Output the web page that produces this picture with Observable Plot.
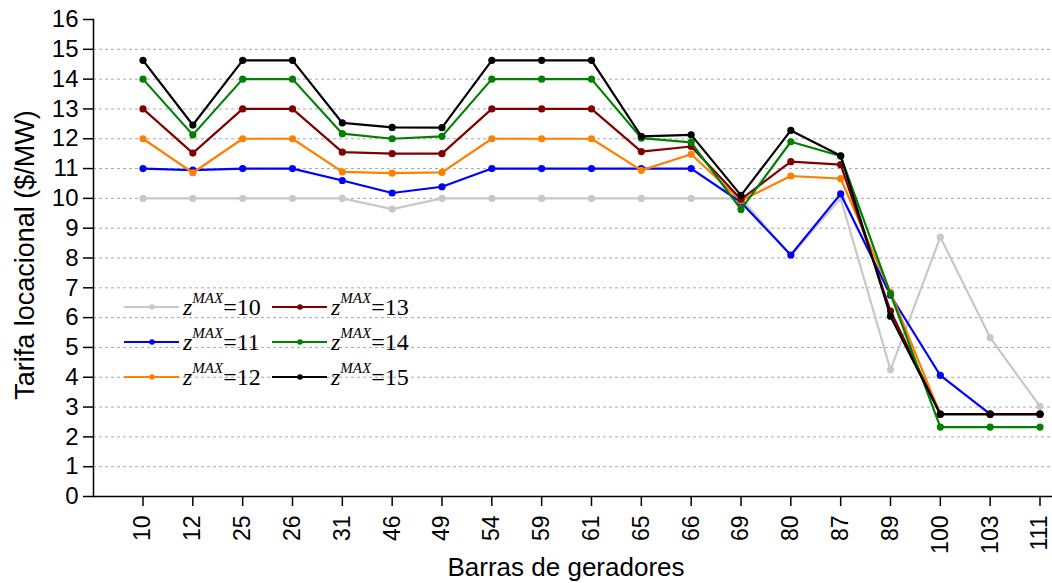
<!DOCTYPE html>
<html>
<head>
<meta charset="utf-8">
<script src="https://cdn.jsdelivr.net/npm/d3@7"></script>
<script src="https://cdn.jsdelivr.net/npm/@observablehq/plot@0.6"></script>
<style>
  body { margin: 0; background: #fff; }
  #chart svg { display: block; }
</style>
</head>
<body>
<div id="chart"></div>
<script>
// Categories (generator buses)
const buses = ["10","12","25","26","31","46","49","54","59","61","65","66","69","80","87","89","100","103","111"];

// Series values: locational tariff ($/MW) for each zMAX
const z10 = [10, 10, 10, 10, 10, 9.64, 10, 10, 10, 10, 10, 10, 10, 8.08, 10.0, 4.25, 8.7, 5.33, 3.02];
const z11 = [11, 10.95, 11, 11, 10.6, 10.18, 10.39, 11, 11, 11, 11, 11, 9.87, 8.1, 10.15, 6.75, 4.06, 2.76, 2.76];
const z12 = [12, 10.86, 12, 12, 10.89, 10.85, 10.87, 12, 12, 12, 10.94, 11.48, 9.92, 10.75, 10.66, 6.85, 2.76, 2.76, 2.76];
const z13 = [13, 11.52, 13, 13, 11.55, 11.5, 11.5, 13, 13, 13, 11.57, 11.74, 9.97, 11.23, 11.13, 6.22, 2.76, 2.76, 2.76];
const z14 = [14, 12.13, 14, 14, 12.17, 12.0, 12.08, 14, 14, 14, 12.02, 11.88, 9.63, 11.9, 11.42, 6.8, 2.33, 2.33, 2.33];
const z15 = [14.63, 12.46, 14.63, 14.63, 12.53, 12.38, 12.37, 14.63, 14.63, 14.63, 12.08, 12.13, 10.1, 12.28, 11.43, 6.05, 2.76, 2.76, 2.76];

const seriesNames = ["10", "11", "12", "13", "14", "15"];
const seriesValues = [z10, z11, z12, z13, z14, z15];
const seriesColors = ["#c8c8c8", "#0000ff", "#ff8000", "#800000", "#008000", "#000000"];

// Axis ticks
const yTicks = d3.range(0, 17);
const gridTicks = d3.range(1, 16);

const xTitle = "Barras de geradores";
const yTitle = "Tarifa locacional ($/MW)";

const series = seriesNames.map((name, i) => ({
  name,
  color: seriesColors[i],
  rows: buses.map((b, j) => ({bus: b, v: seriesValues[i][j]}))
}));

const W = 1052, H = 583;
const mLeft = 93, mTop = 19, mBottom = 87, mRight = 0;

const plot = Plot.plot({
  width: W,
  height: H,
  marginLeft: mLeft,
  marginRight: mRight,
  marginTop: mTop,
  marginBottom: mBottom,
  style: {fontFamily: "'Liberation Sans', Arial, sans-serif", color: "#000", background: "#fff"},
  x: {type: "point", domain: buses, range: [142.5, 1039.5], padding: 0, round: false},
  y: {domain: [0, 16]},
  marks: [
    Plot.ruleY(gridTicks, {stroke: "#a8a8a8", strokeWidth: 1, strokeDasharray: "3,3"}),
    Plot.axisY({ticks: yTicks, tickSize: 10, tickPadding: 5, fontSize: 24, label: null, strokeWidth: 1.5}),
    Plot.axisX({tickSize: 10, tickPadding: 9, tickRotate: -90, fontSize: 23, label: null, strokeWidth: 1.5}),
    Plot.frame({anchor: "left", strokeWidth: 1.5}),
    Plot.ruleY([0], {strokeWidth: 1.5}),
    ...series.flatMap(s => [
      Plot.line(s.rows, {x: "bus", y: "v", stroke: s.color, strokeWidth: 2.2}),
      Plot.dot(s.rows, {x: "bus", y: "v", fill: s.color, r: 3.6})
    ]),
    Plot.text([xTitle], {frameAnchor: "bottom", dx: -7, dy: 71, fontSize: 26, lineAnchor: "middle", textAnchor: "middle"}),
    Plot.text([yTitle], {frameAnchor: "left", dx: -68, dy: -3, fontSize: 27, rotate: -90, lineAnchor: "middle", textAnchor: "middle"})
  ]
});

document.getElementById("chart").appendChild(plot);

// Legend (drawn inside the SVG, two columns x three rows)
const svg = d3.select(plot);
const lg = svg.append("g")
  .attr("font-family", "'Liberation Serif', 'Times New Roman', serif")
  .attr("text-anchor", "start");
const colX = [124, 272];
const rowY = [307, 342, 377];
series.forEach((s, i) => {
  const col = Math.floor(i / 3), row = i % 3;
  const x0 = colX[col], y0 = rowY[row];
  const g = lg.append("g").attr("transform", `translate(${x0},${y0})`);
  g.append("line").attr("x1", 0).attr("x2", 55).attr("y1", 0).attr("y2", 0)
    .attr("stroke", s.color).attr("stroke-width", 2);
  g.append("circle").attr("cx", 28).attr("cy", 0).attr("r", 2.8).attr("fill", s.color);
  const t = g.append("text").attr("x", 59).attr("y", 8)
    .attr("text-anchor", "start").style("font-size", "24px").attr("fill", "#000");
  t.append("tspan").attr("font-style", "italic").text("z");
  t.append("tspan").attr("font-style", "italic").style("font-size", "15px").attr("dy", -12).text("MAX");
  t.append("tspan").attr("dy", 12).style("font-size", "24px").text("=" + s.name);
});
</script>
</body>
</html>
